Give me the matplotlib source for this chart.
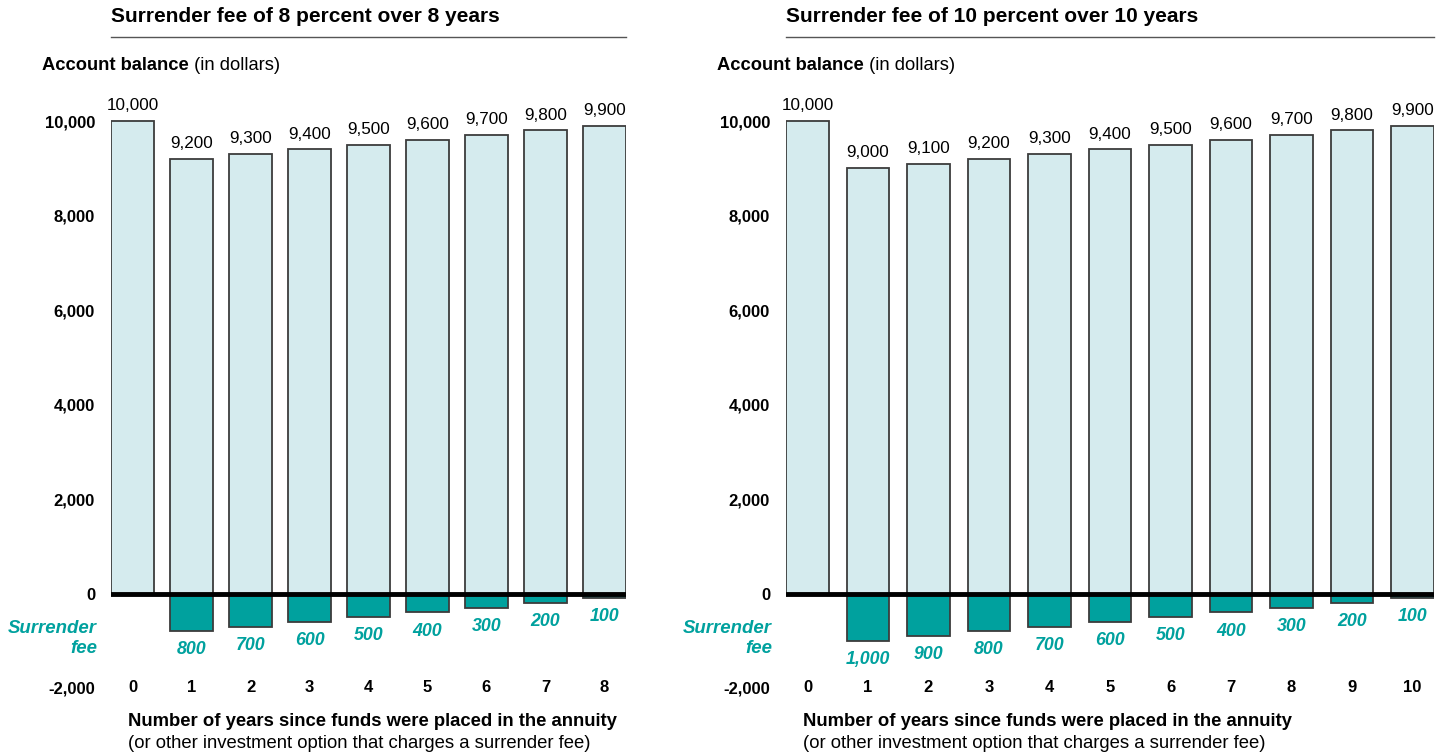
import matplotlib
matplotlib.use("Agg")
import matplotlib.pyplot as plt
from matplotlib.lines import Line2D
import numpy as np

plt.rcParams['font.family'] = ['Liberation Sans', 'DejaVu Sans']

# ---- data ----
years_a = [0, 1, 2, 3, 4, 5, 6, 7, 8]
balance_a = [10000, 9200, 9300, 9400, 9500, 9600, 9700, 9800, 9900]
fee_a = [0, 800, 700, 600, 500, 400, 300, 200, 100]
title_a = "Surrender fee of 8 percent over 8 years"

years_b = [0, 1, 2, 3, 4, 5, 6, 7, 8, 9, 10]
balance_b = [10000, 9000, 9100, 9200, 9300, 9400, 9500, 9600, 9700, 9800, 9900]
fee_b = [0, 1000, 900, 800, 700, 600, 500, 400, 300, 200, 100]
title_b = "Surrender fee of 10 percent over 10 years"

yticks = [-2000, 0, 2000, 4000, 6000, 8000, 10000]
ylabel_bold = "Account balance"
ylabel_norm = " (in dollars)"
xlabel_bold = "Number of years since funds were placed in the annuity"
xlabel_norm = "(or other investment option that charges a surrender fee)"
fee_label = "Surrender\nfee"

LIGHT = '#d5ebee'
EDGE = '#3c3c3c'
TEAL = '#00a19e'

W, H = 1450, 755
fig = plt.figure(figsize=(W / 100, H / 100), dpi=100)


def fx(x):
    return x / W


def fy(y):
    return 1 - y / H


YTOP = 10600
scale = (593 - 121) / 10000.0
top_px = 593 - YTOP * scale


def panel(x0, x1, years, balance, fee, title, width):
    ax = fig.add_axes([fx(x0), fy(688), (x1 - x0) / W, (688 - top_px) / H])
    ax.set_xlim(-width / 2, years[-1] + width / 2)
    ax.set_ylim(-2000, YTOP)
    ax.bar(years, balance, width=width, color=LIGHT, edgecolor=EDGE, linewidth=1.3, zorder=2)
    fy_years = [y for y, f in zip(years, fee) if f > 0]
    fy_vals = [-f for f in fee if f > 0]
    ax.bar(fy_years, fy_vals, width=width, color=TEAL, edgecolor=EDGE, linewidth=1.3, zorder=2)
    ax.axhline(0, color='black', linewidth=3.5, zorder=3)
    for sp in ax.spines.values():
        sp.set_visible(False)
    ax.set_xticks([])
    ax.set_yticks(yticks)
    ax.set_yticklabels([f"{v:,}" for v in yticks], fontweight='bold', fontsize=12)
    ax.tick_params(axis='y', length=0, pad=11.5)
    ax.patch.set_visible(False)
    for yr, v in zip(years, balance):
        ax.annotate(f"{v:,}", (yr, v), xytext=(0, 11), textcoords='offset points',
                    ha='center', va='center', fontsize=12.3)
    for yr, f in zip(years, fee):
        if f > 0:
            ax.annotate(f"{f:,}", (yr, -f), xytext=(0, -13.4), textcoords='offset points',
                        ha='center', va='center', fontsize=12.8, color=TEAL,
                        fontweight='bold', fontstyle='italic')
    for yr in years:
        ax.text(yr, -2000, str(yr), ha='center', va='center', fontsize=12, fontweight='bold')
    # title + rule
    fig.text(fx(x0), fy(16), title, fontsize=15, fontweight='bold', ha='left', va='center')
    fig.add_artist(Line2D([fx(x0), fx(x1)], [fy(37), fy(37)], color='#555555', linewidth=1))
    # y label
    t = fig.text(fx(x0 - 69), fy(65), ylabel_bold, fontsize=13.2, fontweight='bold',
                 ha='left', va='center')
    ax.annotate(ylabel_norm, xy=(1, 0), xycoords=t, ha='left', va='bottom', fontsize=13.2)
    # surrender fee
    fig.text(fx(x0 - 14), fy(638.5), fee_label, fontsize=13.4, fontweight='bold', fontstyle='italic',
             color=TEAL, ha='right', va='center', multialignment='right', linespacing=1.27)
    # x label
    fig.text(fx(x0 + 17), fy(722), xlabel_bold, fontsize=13.3, fontweight='bold', ha='left', va='center')
    fig.text(fx(x0 + 17), fy(744), xlabel_norm, fontsize=13.3, ha='left', va='center')
    return ax


panel(111, 626, years_a, balance_a, fee_a, title_a, 0.73)
panel(786, 1434, years_b, balance_b, fee_b, title_b, 0.71)

fig.savefig("out.png", dpi=100, facecolor='white')
